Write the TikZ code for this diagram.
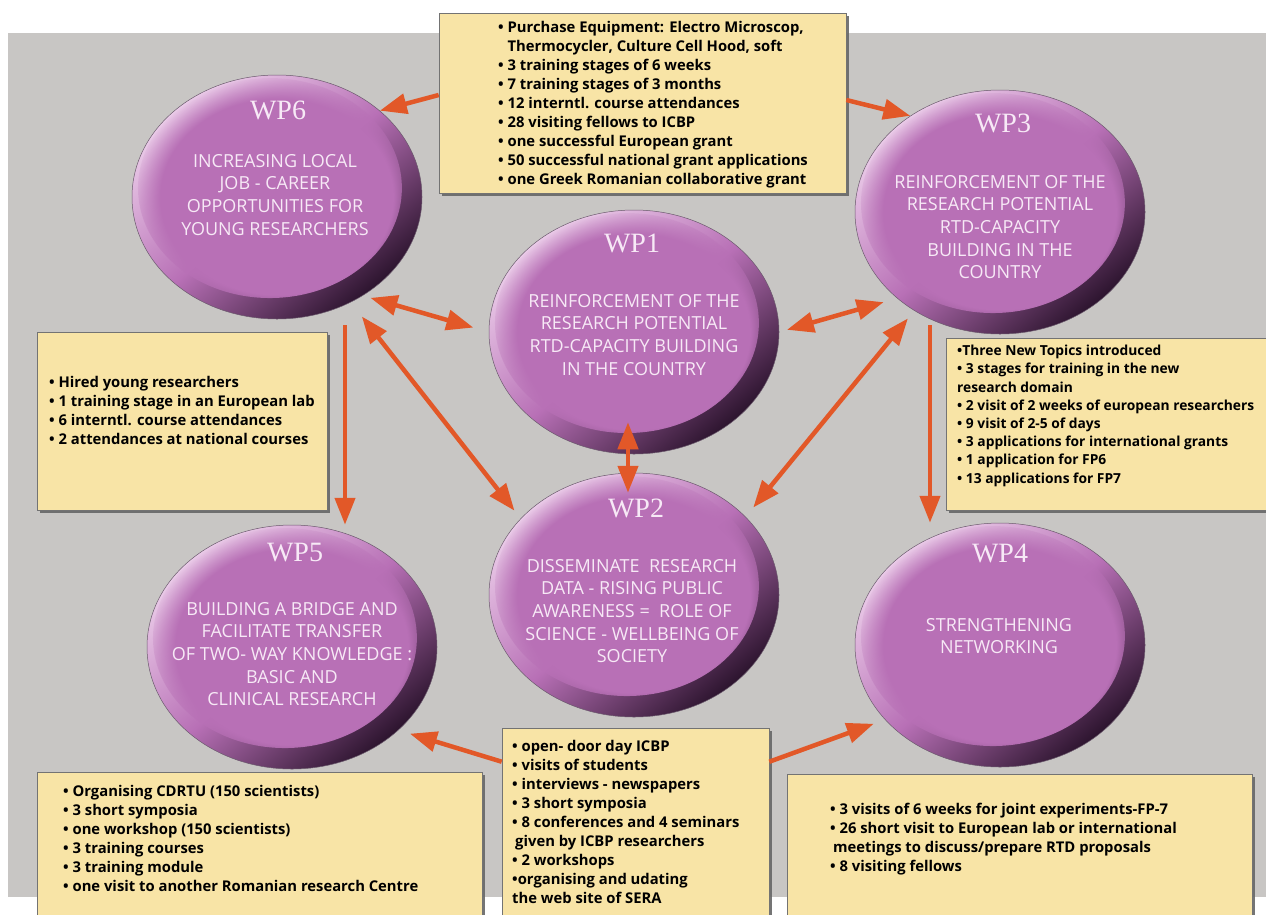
\documentclass[tikz,border=0pt]{standalone}
\usepackage{fontspec}
\setmainfont{Open Sans}
\newfontfamily\wpserif{Liberation Serif}
\usetikzlibrary{arrows.meta,shapes.geometric,shadows,fadings}

\definecolor{bggray}{RGB}{200,198,196}
\definecolor{boxfill}{RGB}{248,228,166}
\definecolor{arrred}{RGB}{226,88,40}
\definecolor{wplight}{RGB}{236,206,234}
\definecolor{wpmid}{RGB}{184,112,182}
\definecolor{wpdark}{RGB}{44,20,46}
\definecolor{wpwhite}{RGB}{247,233,246}

\begin{document}
\begin{tikzpicture}[x=1pt, y=-1pt,
    wp/.style      = {ellipse, minimum width=290pt, minimum height=244pt, inner sep=0pt,
                      draw=wpdark!70, line width=0.5pt,
                      top color=wplight, bottom color=wpdark, middle color=wpmid, shading angle=40,
                      path picture={\fill[wpmid, path fading=circle with fuzzy edge 20 percent]
                        ([xshift=-7pt,yshift=9pt]path picture bounding box.center) ellipse (132pt and 110pt);}},
    wptitle/.style = {inner sep=0pt, text=wpwhite, font=\wpserif\fontsize{28}{28}\selectfont},
    wptext/.style  = {anchor=north, inner sep=0pt, align=center, text=wpwhite,
                      font=\fontsize{18}{22.6}\selectfont},
    box/.style     = {draw=black!55, line width=0.6pt, fill=boxfill, inner sep=0pt,
                      drop shadow={shadow xshift=3pt, shadow yshift=-3pt, fill=black!60, opacity=0.9}},
    boxtext/.style = {anchor=north west, inner sep=0pt, align=left,
                      font=\bfseries\fontsize{14.8}{19}\selectfont},
    arr/.style     = {-{Triangle[length=27pt,width=20pt]}, line width=4.5pt, draw=arrred},
    darr/.style    = {{Triangle[length=27pt,width=20pt]}-{Triangle[length=27pt,width=20pt]},
                      line width=4.5pt, draw=arrred},
]
\useasboundingbox (0,0) rectangle (1266,914);
\fill[bggray] (8,33) rectangle (1266,897);

% result boxes
\node[box, minimum width=407pt, minimum height=180pt] (equip) at (642.5,103) {};
\node[box, minimum width=290pt, minimum height=178pt] (lbox)  at (182,421)   {};
\node[box, minimum width=324pt, minimum height=172pt] (rbox)  at (1108,424)  {};
\node[box, minimum width=445pt, minimum height=158pt] (blbox) at (259.5,851) {};
\node[box, minimum width=267pt, minimum height=202pt] (bmbox) at (635.5,829) {};
\node[box, minimum width=465pt, minimum height=156pt] (brbox) at (1019.5,852) {};

\node[boxtext] (equipx) at (498,21) {• Purchase Equipment: Electro Microscop,\\
  \phantom{• }Thermocycler, Culture Cell Hood, soft\\
  • 3 training stages of 6 weeks\\
  • 7 training stages of 3 months\\
  • 12 interntl. course attendances\\
  • 28 visiting fellows to ICBP\\
  • one successful European grant\\
  • 50 successful national grant applications\\
  • one Greek Romanian collaborative grant};
\node[boxtext] (lboxx) at (49,376) {• Hired young researchers\\
  • 1 training stage in an European lab\\
  • 6 interntl. course attendances\\
  • 2 attendances at national courses};
\node[boxtext, font=\bfseries\fontsize{13.8}{18.2}\selectfont] (rboxx) at (957,345) {•Three New Topics introduced\\
  • 3 stages for training in the new\\
  research domain\\
  • 2 visit of 2 weeks of european researchers\\
  • 9 visit of 2-5 of days\\
  • 3 applications for international grants\\
  • 1 application for FP6\\
  • 13 applications for FP7};
\node[boxtext] (blboxx) at (63,785) {• Organising CDRTU (150 scientists)\\
  • 3 short symposia\\
  • one workshop (150 scientists)\\
  • 3 training courses\\
  • 3 training module\\
  • one visit to another Romanian research Centre};
\node[boxtext] (bmboxx) at (512,740) {• open- door day ICBP\\
  • visits of students\\
  • interviews - newspapers\\
  • 3 short symposia\\
  • 8 conferences and 4 seminars\\
  \hspace{3pt}given by ICBP researchers\\
  • 2 workshops\\
  •organising and udating\\
  the web site of SERA};
\node[boxtext] (brboxx) at (830,803) {• 3 visits of 6 weeks for joint experiments-FP-7\\
  • 26 short visit to European lab or international\\
  \hspace{3pt}meetings to discuss/prepare RTD proposals\\
  • 8 visiting fellows};

% work packages
\node[wp] (wp6) at (277,197)  {};
\node[wp] (wp3) at (1000,212) {};
\node[wp] (wp1) at (634,332)  {};
\node[wp] (wp2) at (634,595)  {};
\node[wp] (wp5) at (292,647)  {};
\node[wp] (wp4) at (1000,645) {};

\node[wptitle] (wp6t) at (278,110)  {WP6};
\node[wptitle] (wp3t) at (1003,123) {WP3};
\node[wptitle] (wp1t) at (632,243)  {WP1};
\node[wptitle] (wp2t) at (636,508)  {WP2};
\node[wptitle] (wp5t) at (295,553)  {WP5};
\node[wptitle] (wp4t) at (1000,553) {WP4};

\node[wptext] (wp6x) at (275,154)  {INCREASING LOCAL\\JOB - CAREER\\OPPORTUNITIES FOR\\YOUNG RESEARCHERS};
\node[wptext] (wp3x) at (1000,175) {REINFORCEMENT OF THE\\RESEARCH POTENTIAL\\RTD-CAPACITY\\BUILDING IN THE\\COUNTRY};
\node[wptext] (wp1x) at (634,294)  {REINFORCEMENT OF THE\\RESEARCH POTENTIAL\\RTD-CAPACITY BUILDING\\IN THE COUNTRY};
\node[wptext] (wp2x) at (632,559)  {DISSEMINATE~ RESEARCH\\DATA - RISING PUBLIC\\AWARENESS = ~ROLE OF\\SCIENCE - WELLBEING OF\\SOCIETY};
\node[wptext] (wp5x) at (292,602)  {BUILDING A BRIDGE AND\\FACILITATE TRANSFER\\OF TWO- WAY KNOWLEDGE :\\BASIC AND\\CLINICAL RESEARCH};
\node[wptext] (wp4x) at (999,618)  {STRENGTHENING\\NETWORKING};

% links
\draw[arr] ([yshift=8pt]equip.west) -- (wp6.40);
\draw[arr] ([yshift=3pt]equip.east) -- (wp3.133);
\draw[darr, shorten <=8pt, shorten >=16pt] (wp6.-49) -- (wp1.west);
\draw[darr, shorten <=8pt, shorten >=14pt] (wp1.east) -- (wp3.220);
\draw[arr] ([xshift=68pt,yshift=-6pt]wp6.south) -- ([xshift=53pt]wp5.north);
\draw[darr, shorten <=18pt, shorten >=10pt] (wp6.-55) -- (wp2.146);
\draw[darr] ([xshift=-6pt,yshift=32pt]wp1.south) -- ([xshift=-6pt,yshift=-20pt]wp2.north);
\draw[darr, shorten <=10pt, shorten >=12pt] (wp3.229) -- (wp2.35);
\draw[arr] ([xshift=-70pt,yshift=9pt]wp3.south) -- ([xshift=-70pt]wp4.north);
\draw[arr, shorten >=12pt] ([yshift=-34pt]bmbox.north west) -- (wp5.-38);
\draw[arr, shorten >=12pt] ([yshift=-34pt]bmbox.north east) -- (wp4.213);
\end{tikzpicture}
\end{document}
